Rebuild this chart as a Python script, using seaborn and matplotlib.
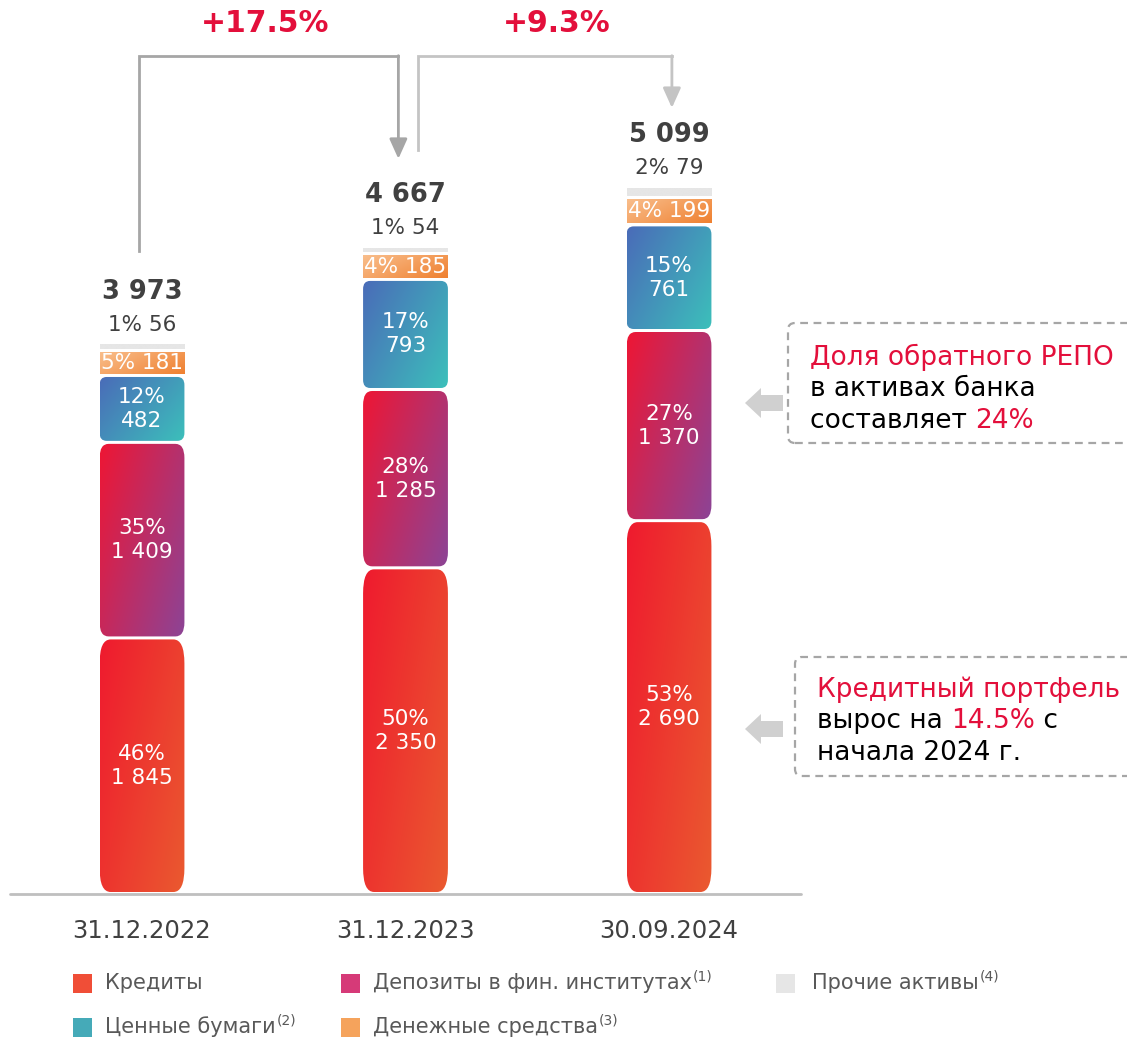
import numpy as np
import matplotlib
matplotlib.use("Agg")
import matplotlib.pyplot as plt
import seaborn as sns
from matplotlib.patches import FancyBboxPatch, Rectangle, Polygon
from matplotlib.transforms import IdentityTransform
from matplotlib.colors import to_rgb

# ---- data (млрд руб.) ----
dates = ["31.12.2022", "31.12.2023", "30.09.2024"]
loans = [1845, 2350, 2690]
deposits = [1409, 1285, 1370]
securities = [482, 793, 761]
cash = [181, 185, 199]
other = [56, 54, 79]

legend_labels = ["Кредиты", "Ценные бумаги", "Депозиты в фин. институтах",
                 "Денежные средства", "Прочие активы"]
legend_notes = ["", "(2)", "(1)", "(3)", "(4)"]

repo_share = "24%"
loan_growth = "14.5%"

# ---- style ----
RED = "#e30f3b"
DARK = "#404040"
W, H, DPI = 1127, 1039, 100

sns.set_theme(style="white")
plt.rcParams["font.family"] = ["DejaVu Sans"]

fig = plt.figure(figsize=(W / DPI, H / DPI), dpi=DPI)
base_px = 894
ax = fig.add_axes([0, (H - base_px) / H, 1, base_px / H])

units_per_px = 7.205
xlim = (-142 / 263.5, (W - 142) / 263.5)
ylim = (0, base_px * units_per_px)

totals = [sum(v) for v in zip(loans, deposits, securities, cash, other)]

# segment: values, solid colour, gradient start/end, corner radii x/y (px), label kind
segments = [
    (loans, "#f04e37", "#ef1a2e", "#ea5a30", (11, 24), "inner"),
    (deposits, "#d63a78", "#ee1634", "#8c4496", (9, 14), "inner"),
    (securities, "#45aab8", "#4a6bb8", "#3cc0bb", (7, 8), "inner"),
    (cash, "#f5a35c", "#f9c08f", "#ef7f2e", (0, 0), "line"),
    (other, "#e6e6e6", "#e6e6e6", "#e6e6e6", (0, 0), "above"),
]

bottom = np.zeros(len(dates))
drawn = []
for vals, solid, c1, c2, rad, kind in segments:
    n0 = len(ax.patches)
    sns.barplot(x=dates, y=vals, bottom=bottom.copy(), width=0.322,
                color=solid, ax=ax)
    drawn.append((ax.patches[n0:], vals, c1, c2, rad, kind))
    bottom = bottom + np.array(vals)

ax.set_xlim(*xlim)
ax.set_ylim(*ylim)
ax.set_autoscale_on(False)


def gradient_fill(patch, c1, c2, radii, gap_bottom, gap_top):
    x0, y0 = patch.get_x(), patch.get_y()
    w, h = patch.get_width(), patch.get_height()
    px0, py0 = ax.transData.transform((x0, y0))
    px1, py1 = ax.transData.transform((x0 + w, y0 + h))
    py0 += gap_bottom
    py1 -= gap_top
    rx, ry = radii
    if rx > 0:
        ry = min(ry, (py1 - py0) / 2)
        clip = FancyBboxPatch((px0, py0), px1 - px0, py1 - py0,
                              boxstyle=f"round,pad=0,rounding_size={rx}",
                              mutation_aspect=ry / rx,
                              transform=IdentityTransform())
    else:
        clip = Rectangle((px0, py0), px1 - px0, py1 - py0,
                         transform=IdentityTransform())
    X, Y = np.meshgrid(np.linspace(0, 1, 80), np.linspace(0, 1, 80))
    t = ((X * 0.6 + Y * 0.4))[..., None]
    rgb = (1 - t) * np.array(to_rgb(c1)) + t * np.array(to_rgb(c2))
    im = ax.imshow(rgb, extent=[x0, x0 + w, y0, y0 + h], origin="upper",
                   aspect="auto", interpolation="bilinear", zorder=2)
    im.set_clip_path(clip)
    patch.set_visible(False)


def fmt(v):
    return f"{v:,}".replace(",", " ")


for idx, (patches, vals, c1, c2, rad, kind) in enumerate(drawn):
    for i, p in enumerate(patches):
        gradient_fill(p, c1, c2, rad, 2 if idx == 0 else 1.5, 1.5)
        v = vals[i]
        pct = int(v / totals[i] * 100 + 0.5)
        cx = p.get_x() + p.get_width() / 2
        cy = p.get_y() + p.get_height() / 2
        if kind == "inner":
            ax.text(cx, cy, f"{pct}%\n{fmt(v)}", ha="center", va="center",
                    color="white", fontsize=15.5, linespacing=1.25, zorder=5)
        elif kind == "line":
            ax.text(cx, cy, f"{pct}% {fmt(v)}", ha="center", va="center",
                    color="white", fontsize=15.5, zorder=5)
        else:
            top = p.get_y() + p.get_height()
            ax.annotate(f"{pct}% {fmt(v)}", (cx, top), xytext=(0, 18),
                        textcoords="offset pixels", ha="center", va="center",
                        color=DARK, fontsize=15.5, zorder=5)
            ax.annotate(fmt(totals[i]), (cx, top), xytext=(0, 51),
                        textcoords="offset pixels", ha="center", va="center",
                        color=DARK, fontsize=18.5, fontweight="bold", zorder=5)

# baseline
ax.plot([-0.5, 2.5], [0, 0], color="#bfbfbf", lw=2, clip_on=False, zorder=6)

# growth brackets between totals
bracket_y = 6040
brackets = [
    (0 - 0.011, totals[0] + 660, 1 - 0.027, totals[1] + 630, "#a6a6a6", 0.467, totals[1] / totals[0]),
    (1 + 0.049, totals[1] + 690, 2 + 0.011, totals[2] + 565, "#c4c4c4", 1.575, totals[2] / totals[1]),
]
for xl, yl, xr, yr, col, xlab, ratio in brackets:
    ax.plot([xl, xl, xr], [yl, bracket_y, bracket_y], color=col, lw=2,
            solid_joinstyle="miter", solid_capstyle="projecting", zorder=3)
    ax.annotate("", xy=(xr, yr), xytext=(xr, bracket_y),
                arrowprops=dict(arrowstyle="-|>,head_length=0.6,head_width=0.27",
                                color=col, lw=2, shrinkA=0, shrinkB=0,
                                mutation_scale=20), zorder=3)
    ax.text(xlab, 6275, f"+{(ratio - 1) * 100:.1f}%", ha="center", va="center",
            color=RED, fontsize=21.5, fontweight="bold")

ax.tick_params(axis="x", length=0, pad=18, labelsize=17.5, labelcolor=DARK)
ax.tick_params(axis="y", left=False, labelleft=False)
ax.set_xlabel("")
ax.set_ylabel("")
sns.despine(ax=ax, left=True, bottom=True)
ax.patch.set_alpha(0)

# ---- callouts (figure pixel coordinates) ----
fig.canvas.draw()
renderer = fig.canvas.get_renderer()


def fx(x):
    return x / W


def fy(y):
    return 1 - y / H


def text_width(s, **kw):
    t = fig.text(0, 0, s, **kw)
    w = t.get_window_extent(renderer).width
    t.remove()
    return w


def runs_line(x, y, runs, size):
    acc = ""
    for k, (s, col) in enumerate(runs):
        acc += s
        if k == 0:
            fig.text(fx(x), fy(y), s, ha="left", va="baseline", color=col, fontsize=size)
        else:
            w = text_width(acc, fontsize=size)
            fig.text(fx(x + w), fy(y), s, ha="right", va="baseline", color=col, fontsize=size)


def callout_box(x0, y0, y1):
    box = FancyBboxPatch((x0, H - y1), W + 30 - x0, y1 - y0,
                         boxstyle="round,pad=0,rounding_size=7",
                         transform=IdentityTransform(), fill=False,
                         edgecolor="#a6a6a6", lw=1.6, linestyle=(0, (3.5, 2.5)))
    fig.add_artist(box)


def block_arrow(tip_x, cy):
    pts = [(tip_x, cy), (tip_x + 16, cy - 15), (tip_x + 16, cy - 8),
           (tip_x + 38, cy - 8), (tip_x + 38, cy + 8), (tip_x + 16, cy + 8),
           (tip_x + 16, cy + 15)]
    poly = Polygon([(px, H - py) for px, py in pts], closed=True,
                   transform=IdentityTransform(), facecolor="#d0d0d0",
                   edgecolor="none")
    fig.add_artist(poly)


FS = 19
callout_box(788, 323, 443)
block_arrow(745, 403)
runs_line(810, 365, [("Доля обратного РЕПО", RED)], FS)
runs_line(810, 396.5, [("в активах банка", "black")], FS)
runs_line(810, 428, [("составляет ", "black"), (repo_share, RED)], FS)

callout_box(795, 657, 776)
block_arrow(745, 729)
runs_line(817, 697, [("Кредитный портфель", RED)], FS)
runs_line(817, 728.5, [("вырос на ", "black"), (loan_growth, RED), (" с", "black")], FS)
runs_line(817, 760, [("начала 2024 г.", "black")], FS)

# ---- legend ----
legend_colors = ["#f04e37", "#45aab8", "#d63a78", "#f5a35c", "#e6e6e6"]
legend_pos = [(73, 983), (73, 1027), (341, 983), (341, 1027), (776, 983)]
for lab, note, col, (lx, ly) in zip(legend_labels, legend_notes, legend_colors, legend_pos):
    sq = Rectangle((lx, H - ly - 9.5), 19, 19, transform=IdentityTransform(),
                   facecolor=col, edgecolor="none")
    fig.add_artist(sq)
    tx = lx + 32 + (4 if lx > 700 else 0)
    fig.text(fx(tx), fy(ly), lab, ha="left", va="center", color="#595959", fontsize=15)
    if note:
        w = text_width(lab, fontsize=15)
        fig.text(fx(tx + w + 1), fy(ly - 6), note, ha="left", va="center",
                 color="#595959", fontsize=10)

fig.savefig("out.png", dpi=DPI, facecolor="white")
